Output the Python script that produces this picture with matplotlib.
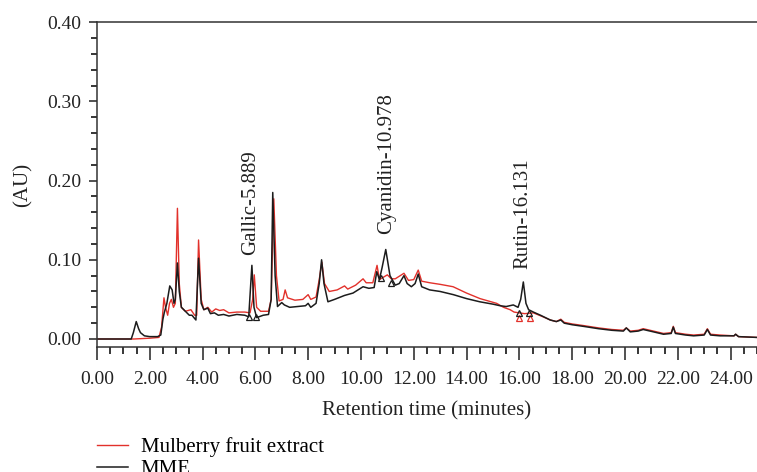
import numpy as np
import matplotlib.pyplot as plt
from matplotlib.ticker import MultipleLocator, FormatStrFormatter

plt.rcParams['font.family'] = ['Liberation Serif', 'DejaVu Serif']

# retention time (min) and absorbance (AU)
mulberry_t = [0.0, 1.4, 2.0, 2.35, 2.45, 2.54, 2.6, 2.68, 2.75, 2.82, 2.9, 2.97,
              3.05, 3.12, 3.2, 3.35, 3.56, 3.7, 3.78, 3.85, 3.95, 4.05, 4.2, 4.35,
              4.5, 4.65, 4.8, 5.0, 5.3, 5.6, 5.8, 5.9, 5.96, 6.05, 6.2, 6.5, 6.6,
              6.7, 6.8, 6.9, 7.05, 7.13, 7.22, 7.5, 7.8, 8.0, 8.1, 8.3, 8.42, 8.52,
              8.62, 8.8, 9.1, 9.38, 9.5, 9.8, 10.08, 10.2, 10.45, 10.61, 10.7,
              10.85, 11.0, 11.15, 11.3, 11.63, 11.8, 12.0, 12.17, 12.3, 12.61,
              13.0, 13.49, 14.0, 14.51, 15.14, 15.4, 15.65, 15.8, 16.0, 16.2,
              16.53, 16.9, 17.17, 17.4, 17.57, 17.7, 18.0, 18.42, 19.0, 19.5,
              19.94, 20.05, 20.2, 20.5, 20.69, 21.08, 21.46, 21.75, 21.83, 21.91,
              22.3, 22.6, 23.0, 23.12, 23.24, 23.6, 24.13, 24.19, 24.3, 25.0]
mulberry_au = [0.0, 0.0, 0.001, 0.002, 0.015, 0.052, 0.04, 0.03, 0.045, 0.05, 0.04,
               0.045, 0.165, 0.07, 0.04, 0.035, 0.037, 0.03, 0.03, 0.125, 0.05,
               0.037, 0.04, 0.034, 0.038, 0.036, 0.037, 0.033, 0.034, 0.034, 0.033,
               0.05, 0.081, 0.04, 0.035, 0.035, 0.05, 0.177, 0.08, 0.048, 0.05,
               0.062, 0.052, 0.049, 0.05, 0.056, 0.05, 0.053, 0.075, 0.097, 0.07,
               0.06, 0.062, 0.067, 0.063, 0.068, 0.076, 0.071, 0.071, 0.093, 0.075,
               0.078, 0.081, 0.076, 0.076, 0.083, 0.074, 0.075, 0.087, 0.073,
               0.071, 0.069, 0.066, 0.058, 0.051, 0.045, 0.04, 0.037, 0.034, 0.033,
               0.032, 0.033, 0.028, 0.024, 0.022, 0.025, 0.021, 0.019, 0.017, 0.014,
               0.012, 0.011, 0.014, 0.01, 0.011, 0.013, 0.01, 0.007, 0.008, 0.016,
               0.008, 0.006, 0.005, 0.006, 0.013, 0.006, 0.005, 0.004, 0.006,
               0.003, 0.002]

mme_t = [0.0, 1.3, 1.38, 1.49, 1.58, 1.65, 1.8, 2.0, 2.3, 2.42, 2.5, 2.55, 2.65,
         2.76, 2.85, 2.92, 2.97, 3.05, 3.12, 3.2, 3.35, 3.5, 3.6, 3.75, 3.85,
         3.95, 4.05, 4.2, 4.3, 4.45, 4.6, 4.8, 5.0, 5.3, 5.6, 5.75, 5.87, 5.95,
         6.05, 6.3, 6.5, 6.6, 6.66, 6.75, 6.84, 7.0, 7.1, 7.3, 7.6, 7.9, 8.0,
         8.1, 8.3, 8.42, 8.51, 8.6, 8.75, 9.0, 9.38, 9.7, 10.08, 10.3, 10.5,
         10.6, 10.7, 10.8, 10.94, 11.1, 11.3, 11.45, 11.63, 11.75, 11.91, 12.05,
         12.17, 12.3, 12.6, 13.0, 13.5, 14.0, 14.5, 15.0, 15.27, 15.5, 15.77,
         15.95, 16.05, 16.15, 16.25, 16.35, 16.53, 16.8, 17.17, 17.4, 17.57,
         17.7, 18.0, 18.42, 19.0, 19.5, 19.94, 20.05, 20.2, 20.5, 20.69, 21.08,
         21.46, 21.75, 21.83, 21.91, 22.3, 22.6, 23.0, 23.12, 23.24, 23.6, 24.13,
         24.19, 24.3, 25.0]
mme_au = [0.0, 0.0, 0.008, 0.022, 0.013, 0.008, 0.004, 0.003, 0.003, 0.005, 0.025,
          0.033, 0.045, 0.067, 0.062, 0.045, 0.05, 0.096, 0.06, 0.04, 0.035, 0.03,
          0.03, 0.024, 0.102, 0.045, 0.037, 0.039, 0.032, 0.033, 0.03, 0.031,
          0.029, 0.031, 0.03, 0.028, 0.093, 0.04, 0.027, 0.03, 0.031, 0.05, 0.185,
          0.08, 0.041, 0.046, 0.043, 0.04, 0.041, 0.042, 0.045, 0.04, 0.045, 0.07,
          0.1, 0.07, 0.047, 0.05, 0.055, 0.058, 0.066, 0.064, 0.065, 0.085, 0.075,
          0.09, 0.113, 0.08, 0.068, 0.07, 0.08, 0.07, 0.066, 0.07, 0.082, 0.066,
          0.062, 0.06, 0.056, 0.051, 0.047, 0.044, 0.042, 0.041, 0.043, 0.04, 0.05,
          0.072, 0.045, 0.037, 0.034, 0.03, 0.024, 0.022, 0.024, 0.02, 0.018,
          0.016, 0.013, 0.011, 0.01, 0.014, 0.009, 0.01, 0.012, 0.009, 0.006,
          0.007, 0.015, 0.007, 0.005, 0.004, 0.005, 0.012, 0.005, 0.004, 0.004,
          0.006, 0.003, 0.002]

# integration markers (start / end of the labelled peaks)
mme_mark_t = [5.75, 6.02, 10.77, 11.15, 15.99, 16.38]
mme_mark_au = [0.028, 0.028, 0.077, 0.071, 0.033, 0.033]
mulberry_mark_t = [15.99, 16.41]
mulberry_mark_au = [0.026, 0.026]

peak_names = ['Gallic-5.889', 'Cyanidin-10.978', 'Rutin-16.131']
peak_t = [5.99, 11.13, 16.29]
peak_au = [0.106, 0.133, 0.089]

red = '#e2312b'
black = '#1c1c1c'

fig = plt.figure(figsize=(7.57, 4.72), dpi=100)
ax = fig.add_axes([0.128, 0.265, 0.872, 0.688])

l1, = ax.plot(mulberry_t, mulberry_au, color=red, lw=1.0,
              label='Mulberry fruit extract')
l2, = ax.plot(mme_t, mme_au, color=black, lw=1.1, label='MME')
ax.plot(mulberry_mark_t, mulberry_mark_au, ls='none', marker='^', ms=5,
        mfc='none', mec=red, mew=0.9)
ax.plot(mme_mark_t, mme_mark_au, ls='none', marker='^', ms=5,
        mfc='none', mec=black, mew=0.9)

for name, t, au in zip(peak_names, peak_t, peak_au):
    ax.text(t, au, name, rotation=90, rotation_mode='anchor',
            ha='left', va='baseline', fontsize=15, color='#222222')

ax.set_xlim(0, 25)
ax.set_ylim(-0.01, 0.40)
ax.xaxis.set_major_locator(MultipleLocator(2))
ax.xaxis.set_minor_locator(MultipleLocator(0.5))
ax.yaxis.set_major_locator(MultipleLocator(0.1))
ax.yaxis.set_minor_locator(MultipleLocator(0.02))
ax.xaxis.set_major_formatter(FormatStrFormatter('%.2f'))
ax.yaxis.set_major_formatter(FormatStrFormatter('%.2f'))
ax.set_yticks(np.arange(0, 0.41, 0.1))

ax.spines['right'].set_visible(False)
for s in ['left', 'top', 'bottom']:
    ax.spines[s].set_linewidth(1.1)
    ax.spines[s].set_color('#333333')

ax.tick_params(axis='x', which='major', direction='out', length=9, width=1.1,
               pad=8, labelsize=14, colors='#222222')
ax.tick_params(axis='x', which='minor', direction='out', length=5, width=1.1)
ax.tick_params(axis='y', which='major', direction='out', length=6, width=1.1,
               pad=5, labelsize=14, colors='#222222')
ax.tick_params(axis='y', which='minor', direction='out', length=4, width=1.1)

ax.set_xlabel('Retention time (minutes)', fontsize=15, color='#222222', labelpad=10)
ax.set_ylabel('(AU)', fontsize=15, color='#222222', labelpad=11)

fig.legend(handles=[l1, l2], loc='upper left', bbox_to_anchor=(0.128, 0.073),
           frameon=False, fontsize=15, borderpad=0, borderaxespad=0,
           handlelength=1.5, handletextpad=0.6, labelspacing=0.1)

fig.savefig('out.png', dpi=100)
